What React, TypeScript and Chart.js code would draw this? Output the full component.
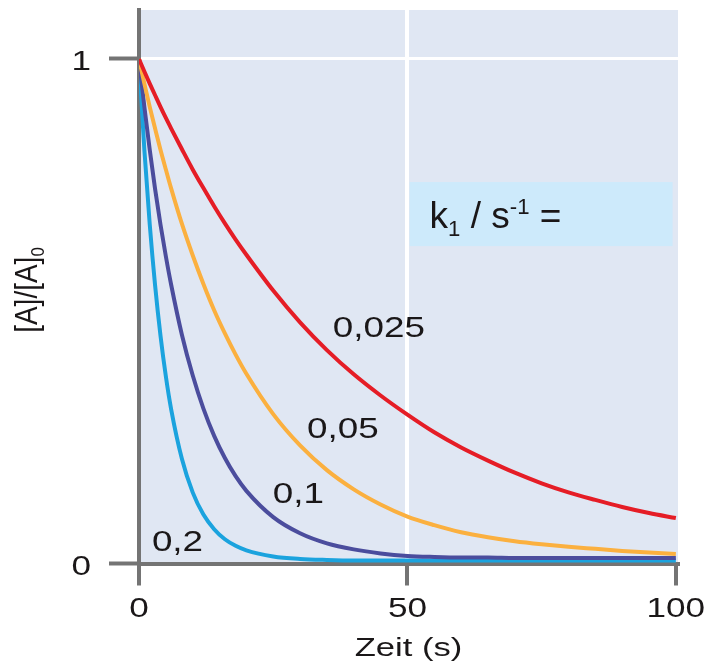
import React, { useEffect, useRef } from "react";
import { Chart, registerables } from "chart.js";

Chart.register(...registerables);

// ---- data ----
const times = [0, 1, 2, 3, 4, 5, 6, 8, 10, 12, 14, 16, 18, 20, 25, 30, 35, 40, 45, 50, 55, 60, 65, 70, 75, 80, 85, 90, 95, 100];
const series0025 = [1, 0.975, 0.951, 0.928, 0.905, 0.883, 0.862, 0.821, 0.781, 0.744, 0.708, 0.674, 0.642, 0.612, 0.541, 0.478, 0.423, 0.375, 0.333, 0.295, 0.26, 0.23, 0.204, 0.18, 0.159, 0.141, 0.126, 0.112, 0.1, 0.09];
const series005 = [1, 0.951, 0.905, 0.862, 0.82, 0.781, 0.743, 0.673, 0.611, 0.554, 0.502, 0.456, 0.414, 0.376, 0.296, 0.234, 0.185, 0.147, 0.117, 0.093, 0.076, 0.062, 0.052, 0.044, 0.038, 0.033, 0.029, 0.025, 0.022, 0.019];
const series01 = [1, 0.905, 0.82, 0.742, 0.672, 0.609, 0.552, 0.453, 0.373, 0.307, 0.253, 0.209, 0.173, 0.144, 0.092, 0.06, 0.04, 0.028, 0.02, 0.015, 0.013, 0.012, 0.012, 0.011, 0.011, 0.011, 0.011, 0.011, 0.011, 0.011];
const series02 = [1, 0.82, 0.672, 0.551, 0.452, 0.371, 0.305, 0.207, 0.141, 0.097, 0.068, 0.048, 0.035, 0.026, 0.014, 0.009, 0.007, 0.006, 0.006, 0.006, 0.006, 0.006, 0.006, 0.006, 0.006, 0.006, 0.006, 0.006, 0.006, 0.006];

const seriesColors = ["#e51d26", "#fbb03f", "#4b4d9d", "#1ba3de"];

const xTicks = [0, 50, 100];
const yTicks = [0, 1];
const xTickLabels = ["0", "50", "100"];
const yTickLabels = ["0", "1"];

const curveLabels = ["0,025", "0,05", "0,1", "0,2"];
const curveLabelX = [36.1, 31.3, 24.9, 2.4];
const curveLabelY = [0.449, 0.249, 0.12, 0.025];

const xTitle = "Zeit (s)";
const legendBoxX = [50.4, 99.4];
const legendBoxY = [0.756, 0.629];

const FONT = '"Liberation Sans", Arial, Helvetica, sans-serif';
const TEXT = "#1a1718";

function drawStretched(
  ctx: CanvasRenderingContext2D,
  text: string,
  x: number,
  y: number,
  size: number,
  sx: number,
  align: CanvasTextAlign
) {
  ctx.save();
  ctx.font = `${size}px ${FONT}`;
  ctx.textAlign = align;
  ctx.textBaseline = "alphabetic";
  ctx.fillStyle = TEXT;
  ctx.translate(x, y);
  ctx.scale(sx, 1);
  ctx.fillText(text, 0, 0);
  ctx.restore();
}

type Seg = { t: string; mode?: "sub" | "sup" };

function drawRich(ctx: CanvasRenderingContext2D, segs: Seg[], x: number, y: number, size: number) {
  let cx = x;
  for (const s of segs) {
    const sz = s.mode ? size * 0.6 : size;
    ctx.font = `${sz}px ${FONT}`;
    const dy = s.mode === "sub" ? size * 0.22 : s.mode === "sup" ? -size * 0.38 : 0;
    ctx.fillText(s.t, cx, y + dy);
    cx += ctx.measureText(s.t).width;
  }
}

const decor = {
  id: "decor",
  beforeDraw(chart: any) {
    const { ctx, chartArea: a } = chart;
    const xs = chart.scales.x;
    const ys = chart.scales.y;
    ctx.save();
    ctx.fillStyle = "#e0e7f3";
    ctx.fillRect(a.left, a.top, a.right - a.left, a.bottom - a.top);
    const bx0 = xs.getPixelForValue(legendBoxX[0]);
    const bx1 = xs.getPixelForValue(legendBoxX[1]);
    const by0 = ys.getPixelForValue(legendBoxY[0]);
    const by1 = ys.getPixelForValue(legendBoxY[1]);
    ctx.fillStyle = "#cdeafb";
    ctx.fillRect(bx0, by0, bx1 - bx0, by1 - by0);
    ctx.restore();
  },
  afterDraw(chart: any) {
    const { ctx } = chart;
    const xs = chart.scales.x;
    const ys = chart.scales.y;
    // tick labels
    xs.ticks.forEach((t: any, i: number) => {
      drawStretched(ctx, xTickLabels[i], xs.getPixelForValue(t.value), 617, 27, 1.3, "center");
    });
    ys.ticks.forEach((t: any, i: number) => {
      drawStretched(ctx, yTickLabels[i], 91, ys.getPixelForValue(t.value) + 11, 27, 1.3, "right");
    });
    // x title
    drawStretched(ctx, xTitle, (xs.getPixelForValue(0) + xs.getPixelForValue(100)) / 2 + 1, 656, 26, 1.33, "center");
    // curve labels
    curveLabels.forEach((lbl, i) => {
      drawStretched(ctx, lbl, xs.getPixelForValue(curveLabelX[i]), ys.getPixelForValue(curveLabelY[i]), 29, 1.27, "left");
    });
    // legend box text
    ctx.save();
    ctx.fillStyle = TEXT;
    ctx.textBaseline = "alphabetic";
    ctx.textAlign = "left";
    const tx = xs.getPixelForValue(legendBoxX[0]) + 20;
    const ty = ys.getPixelForValue(0.665);
    ctx.translate(tx, ty);
    drawRich(ctx, [{ t: "k" }, { t: "1", mode: "sub" }, { t: " / s" }, { t: "-1", mode: "sup" }, { t: " =" }], 0, 0, 37);
    ctx.restore();
    // y title (rotated)
    ctx.save();
    ctx.fillStyle = TEXT;
    ctx.translate(37, 290);
    ctx.rotate(-Math.PI / 2);
    ctx.scale(1, 1.12);
    ctx.textAlign = "left";
    ctx.textBaseline = "alphabetic";
    ctx.font = `28px ${FONT}`;
    const main = "[A]/[A]";
    const w1 = ctx.measureText(main).width;
    ctx.font = `17px ${FONT}`;
    const w2 = ctx.measureText("0").width;
    const start = -(w1 + w2) / 2;
    drawRich(ctx, [{ t: main }, { t: "0", mode: "sub" }], start, 0, 28);
    ctx.restore();
  },
};

export default function App() {
  const ref = useRef<HTMLCanvasElement>(null);
  useEffect(() => {
    if (!ref.current) return;
    const mk = (vals: number[], i: number) => ({
      label: curveLabels[i],
      data: times.map((t, j) => ({ x: t, y: vals[j] })),
      borderColor: seriesColors[i],
      backgroundColor: seriesColors[i],
      borderWidth: 4,
      pointRadius: 0,
      fill: false,
      cubicInterpolationMode: "monotone" as const,
    });
    const chart = new Chart(ref.current, {
      type: "line",
      data: {
        datasets: [mk(series0025, 0), mk(series005, 1), mk(series01, 2), mk(series02, 3)],
      },
      options: {
        responsive: false,
        animation: false,
        devicePixelRatio: 1,
        layout: { padding: { top: 10, right: 32, left: 0, bottom: 0 } },
        plugins: { legend: { display: false }, tooltip: { enabled: false }, title: { display: false } },
        scales: {
          x: {
            type: "linear",
            min: 0,
            max: 100.4,
            afterBuildTicks: (s: any) => {
              s.ticks = xTicks.map((v) => ({ value: v }));
            },
            afterFit: (s: any) => {
              s.height = 102.5;
            },
            ticks: { display: false },
            grid: {
              color: (c: any) => (c.tick && c.tick.value === 50 ? "#ffffff" : "rgba(0,0,0,0)"),
              lineWidth: 4,
              tickColor: "#747474",
              tickLength: 22,
              tickWidth: 4,
              drawTicks: true,
            },
            border: { color: "#747474", width: 4 },
          },
          y: {
            type: "linear",
            min: 0,
            max: 1.097,
            afterBuildTicks: (s: any) => {
              s.ticks = yTicks.map((v) => ({ value: v }));
            },
            afterFit: (s: any) => {
              s.width = 139;
            },
            ticks: { display: false },
            grid: {
              color: (c: any) => (c.tick && c.tick.value === 1 ? "#ffffff" : "rgba(0,0,0,0)"),
              lineWidth: 3,
              tickColor: "#747474",
              tickLength: 30,
              tickWidth: 4,
              drawTicks: true,
            },
            border: { color: "#747474", width: 4 },
          },
        },
      },
      plugins: [decor],
    });
    return () => chart.destroy();
  }, []);
  return (
    <div style={{ position: "absolute", left: 0, top: 0, width: 710, height: 666, background: "#ffffff" }}>
      <canvas ref={ref} width={710} height={666} style={{ display: "block", width: 710, height: 666 }} />
    </div>
  );
}
